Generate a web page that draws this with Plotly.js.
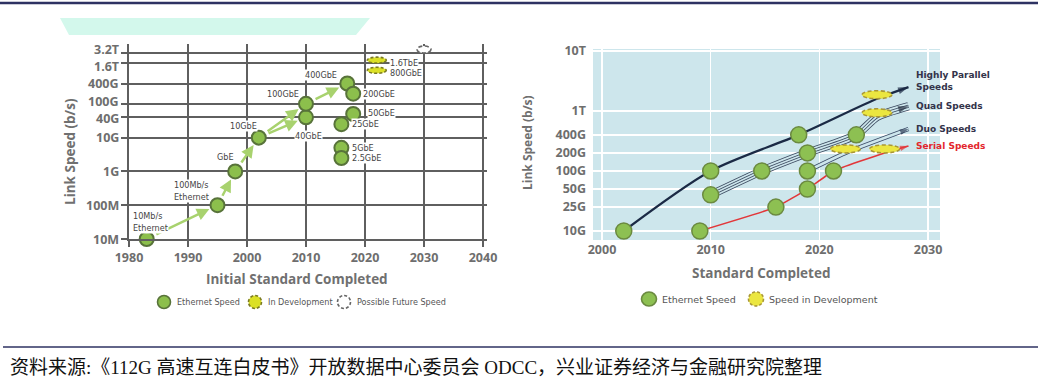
<!DOCTYPE html>
<html><head><meta charset="utf-8">
<script src="https://cdn.plot.ly/plotly-3.0.1.min.js"></script>
<style>html,body{margin:0;padding:0;background:#fff;overflow:hidden}</style>
</head><body><div id="chart" style="width:1038px;height:378px"></div>
<script>
// ---------------- Left chart data ----------------
const leftSpeedTicks = [1e7, 1e8, 1e9, 1e10, 4e10, 1e11, 4e11, 1.6e12, 3.2e12];
const leftSpeedLabels = ['10M', '100M', '1G', '10G', '40G', '100G', '400G', '1.6T', '3.2T'];
const leftYearTicks = [1980, 1990, 2000, 2010, 2020, 2030, 2040];
const ethNames = ['10Mb/s<br>Ethernet', '100Mb/s<br>Ethernet', 'GbE', '10GbE', '40GbE', '100GbE', '400GbE', '200GbE', '50GbE', '25GbE', '5GbE', '2.5GbE'];
const ethYears = [1983, 1995, 1998, 2002, 2010, 2010, 2017, 2018, 2018, 2016, 2016, 2016];
const ethSpeeds = [1e7, 1e8, 1e9, 1e10, 4e10, 1e11, 4e11, 2e11, 5e10, 2.5e10, 5e9, 2.5e9];
const devNames = ['1.6TbE', '800GbE'];
const devYears = [2022, 2022];
const devSpeeds = [1.6e12, 8e11];
const futureYears = [2030];
const futureSpeeds = [3.2e12];
const evolutionFrom = [0, 1, 2, 3, 3, 5];
const evolutionTo = [1, 2, 3, 5, 4, 6];
const leftLegend = ['Ethernet Speed', 'In Development', 'Possible Future Speed'];

// ---------------- Right chart data ----------------
const rightSpeedTicks = [1e10, 2.5e10, 5e10, 1e11, 2e11, 4e11, 1e12, 1e13];
const rightSpeedLabels = ['10G', '25G', '50G', '100G', '200G', '400G', '1T', '10T'];
const rightYearTicks = [2000, 2010, 2020, 2030];
const parallelYears = [2002, 2010, 2018.1, 2025.3, 2028.2];
const parallelSpeeds = [1e10, 1e11, 4e11, 1.6e12, 2.5e12];
const parallelStatus = ['eth', 'eth', 'eth', 'dev', 'next'];
const quadYears = [2010, 2014.7, 2018.9, 2023.4, 2025.3, 2028.2];
const quadSpeeds = [4e10, 1e11, 2e11, 4e11, 8e11, 1.2e12];
const quadStatus = ['eth', 'eth', 'eth', 'eth', 'dev', 'next'];
const duoYears = [2018.9, 2022.4, 2028.2];
const duoSpeeds = [1e11, 2e11, 5e11];
const duoStatus = ['eth', 'dev', 'next'];
const serialYears = [2009, 2016, 2018.9, 2021.3, 2026, 2028.2];
const serialSpeeds = [1e10, 2.5e10, 5e10, 1e11, 2e11, 2.6e11];
const serialStatus = ['eth', 'eth', 'eth', 'eth', 'dev', 'next'];
const seriesLabels = ['Highly Parallel<br>Speeds', 'Quad Speeds', 'Duo Speeds', 'Serial Speeds'];
const rightLegend = ['Ethernet Speed', 'Speed in Development'];

const captionText = '资料来源:《112G 高速互连白皮书》开放数据中心委员会 ODCC，兴业证券经济与金融研究院整理';

// ---------------- helpers / styles ----------------
const W = 1038, H = 378;
const px = v => v / W;
const py = v => 1 - v / H;
const L10 = v => Math.log10(v);
const AX_FONT = {family: '"Open Sans", "DejaVu Sans", sans-serif', size: 12.5, color: '#6e6e6e', weight: 700};
const TITLE_FONT = {family: '"Open Sans", "DejaVu Sans", sans-serif', size: 13.5, color: '#707070', weight: 700};
const SMALL_FONT = {family: '"Liberation Sans Narrow", "DejaVu Sans Condensed", "Liberation Sans", sans-serif', size: 9, color: '#444'};
const GREEN = '#8cbf4c', GREEN_LINE = '#58733a';
const YELLOW = '#dbe026', YELLOW_LINE = '#7a7a22';
const RBG = '#cde6ec';
const SMALL_DASH = '3px,2px';

// label placement (style only): [xanchor, xshift, yshift]
const ethLabelPos = [
  ['left', -15, 17], ['center', -26, 14], ['center', -10, 14], ['center', -15, 12],
  ['center', 3, -19], ['center', -23, 10], ['center', -26, 9], ['left', 9, 0],
  ['left', 14, 1], ['left', 10, 0], ['left', 10, 0], ['left', 10, 0]
];
// tick label nudges for the crowded parts of the left axis (style only)
const leftTickNudge = [0, 0, 0, 0, -1, 2, 0, -3, 3];

const traces = [];
const shapes = [];
const annotations = [];

// ---------- left chart ----------
traces.push({
  type: 'scatter', mode: 'markers', xaxis: 'x', yaxis: 'y', cliponaxis: false,
  x: ethYears, y: ethSpeeds, hoverinfo: 'skip',
  marker: {size: 14, color: GREEN, line: {color: GREEN_LINE, width: 2}}
});
for (let k = 0; k < evolutionFrom.length; k++) {
  const i = evolutionFrom[k], j = evolutionTo[k];
  annotations.push({
    xref: 'x', yref: 'y', axref: 'x', ayref: 'y',
    x: ethYears[j], y: L10(ethSpeeds[j]), ax: ethYears[i], ay: L10(ethSpeeds[i]),
    text: '', showarrow: true, arrowhead: 2, arrowsize: 1, arrowwidth: 2.5,
    arrowcolor: '#a8d26e', standoff: 9, startstandoff: 9
  });
}
ethNames.forEach((n, i) => {
  const p = ethLabelPos[i];
  annotations.push({
    xref: 'x', yref: 'y', x: ethYears[i], y: L10(ethSpeeds[i]), text: n, showarrow: false,
    xanchor: p[0], yanchor: 'middle', xshift: p[1], yshift: p[2], align: 'left',
    font: SMALL_FONT, bgcolor: '#ffffff', borderpad: 0
  });
});
devNames.forEach((n, i) => {
  shapes.push({type: 'circle', xref: 'x', yref: 'y', xsizemode: 'pixel', ysizemode: 'pixel',
    xanchor: devYears[i], yanchor: devSpeeds[i], x0: -9.5, x1: 9.5, y0: -6, y1: 6,
    fillcolor: YELLOW, line: {color: YELLOW_LINE, width: 1.6, dash: SMALL_DASH}});
  annotations.push({xref: 'x', yref: 'y', x: devYears[i], y: L10(devSpeeds[i]), text: n, showarrow: false,
    xanchor: 'left', yanchor: 'middle', xshift: 12, font: SMALL_FONT, bgcolor: '#ffffff', borderpad: 0});
});
futureYears.forEach((yr, i) => {
  shapes.push({type: 'circle', xref: 'x', yref: 'y', xsizemode: 'pixel', ysizemode: 'pixel',
    xanchor: yr, yanchor: futureSpeeds[i], x0: -7, x1: 7, y0: -7, y1: 7,
    fillcolor: '#ffffff', line: {color: '#666', width: 1.6, dash: '4px,2.5px'}});
});
leftSpeedTicks.forEach((v, i) => {
  annotations.push({xref: 'paper', yref: 'y', x: px(121), y: L10(v), text: leftSpeedLabels[i], showarrow: false,
    xanchor: 'right', yanchor: 'middle', yshift: leftTickNudge[i], font: AX_FONT});
});

// ---------- right chart ----------
shapes.push({type: 'rect', xref: 'x2 domain', yref: 'y2 domain', x0: 0, x1: 1, y0: 0, y1: 1,
  fillcolor: RBG, line: {width: 0}, layer: 'below'});

function stripes(xs, ys, widths, dark) {
  widths.forEach((w, k) => {
    traces.push({type: 'scatter', mode: 'lines', xaxis: 'x2', yaxis: 'y2', x: xs, y: ys, hoverinfo: 'skip',
      line: {color: k % 2 === 0 ? dark : RBG, width: w, shape: 'spline', smoothing: 0.6}});
  });
}
traces.push({type: 'scatter', mode: 'lines', xaxis: 'x2', yaxis: 'y2', x: parallelYears, y: parallelSpeeds,
  hoverinfo: 'skip', line: {color: '#1b2a45', width: 2.2, shape: 'spline', smoothing: 0.8}});
stripes(quadYears, quadSpeeds, [8.3, 6.7, 3.3, 1.7], '#3c4a60');
stripes(duoYears, duoSpeeds, [4.4, 2.6], '#3c4d68');
traces.push({type: 'scatter', mode: 'lines', xaxis: 'x2', yaxis: 'y2', x: serialYears, y: serialSpeeds,
  hoverinfo: 'skip', line: {color: '#e2373a', width: 1.6, shape: 'spline', smoothing: 0.4}});

const allSeries = [
  [parallelYears, parallelSpeeds, parallelStatus, '#1b2a45', 11, '#33334a'],
  [quadYears, quadSpeeds, quadStatus, '#2a3345', 11, '#33334a'],
  [duoYears, duoSpeeds, duoStatus, '#2f3d58', 9, '#33334a'],
  [serialYears, serialSpeeds, serialStatus, '#e2373a', 9, '#e3262c']
];
const gx = [], gy = [];
allSeries.forEach((s, si) => {
  const [xs, ys, st, col, asz, labCol] = s;
  traces.push({type: 'scatter', mode: 'markers', xaxis: 'x2', yaxis: 'y2', x: xs, y: ys, hoverinfo: 'skip',
    marker: {symbol: 'arrow', angleref: 'previous', color: col, size: st.map(v => v === 'next' ? asz : 0), line: {width: 0}}});
  st.forEach((v, i) => {
    if (v === 'eth') { gx.push(xs[i]); gy.push(ys[i]); }
    if (v === 'dev') shapes.push({type: 'circle', xref: 'x2', yref: 'y2', xsizemode: 'pixel', ysizemode: 'pixel',
      xanchor: xs[i], yanchor: ys[i], x0: -15, x1: 15, y0: -8, y1: 8,
      fillcolor: '#ebe640', line: {color: '#a89636', width: 1.6, dash: '4px,2.5px'}});
    if (v === 'next') annotations.push({xref: 'x2', yref: 'y2', x: xs[i], y: L10(ys[i]), text: seriesLabels[si],
      showarrow: false, xanchor: 'left', yanchor: 'middle', xshift: 6, yshift: si === 0 ? 6 : 0, align: 'left',
      font: {family: '"DejaVu Sans", sans-serif', size: 9, color: labCol, weight: 700}});
  });
});
traces.push({type: 'scatter', mode: 'markers', xaxis: 'x2', yaxis: 'y2', x: gx, y: gy, hoverinfo: 'skip',
  marker: {size: 16, color: '#8dc052', line: {color: '#6b8a40', width: 1.5}}});

// ---------- titles ----------
const T = (x, y, text, extra) => Object.assign({xref: 'paper', yref: 'paper', x: px(x), y: py(y), text: text,
  showarrow: false, xanchor: 'center', yanchor: 'middle', font: TITLE_FONT}, extra || {});
annotations.push(
  T(70, 152, 'Link Speed (b/s)', {textangle: -90}),
  T(297, 279, 'Initial Standard Completed'),
  T(527, 143, 'Link Speed (b/s)', {textangle: -90, font: Object.assign({}, TITLE_FONT, {size: 12})}),
  T(761, 273, 'Standard Completed')
);

// ---------- legends ----------
const legL = [[164, GREEN, GREEN_LINE, 'solid'], [255, YELLOW, YELLOW_LINE, SMALL_DASH], [344, '#ffffff', '#666', SMALL_DASH]];
legL.forEach((l, i) => {
  shapes.push({type: 'circle', xref: 'paper', yref: 'paper', xsizemode: 'pixel', ysizemode: 'pixel',
    xanchor: px(l[0]), yanchor: py(302), x0: -6.5, x1: 6.5, y0: -6.5, y1: 6.5, fillcolor: l[1], line: {color: l[2], width: 1.6, dash: l[3]}});
  annotations.push({xref: 'paper', yref: 'paper', x: px(l[0] + 11), y: py(302), xanchor: 'left', yanchor: 'middle', text: leftLegend[i],
    showarrow: false, font: Object.assign({}, SMALL_FONT, {size: 9, color: '#555'})});
});
const legR = [[649, '#8dc052', '#6b8a40', 'solid', 7.5], [756, '#ebe640', '#a89636', SMALL_DASH, 7.5]];
legR.forEach((l, i) => {
  shapes.push({type: 'circle', xref: 'paper', yref: 'paper', xsizemode: 'pixel', ysizemode: 'pixel',
    xanchor: px(l[0]), yanchor: py(299), x0: -l[4], x1: l[4], y0: -7, y1: 7, fillcolor: l[1], line: {color: l[2], width: 1.6, dash: l[3]}});
  annotations.push({xref: 'paper', yref: 'paper', x: px(l[0] + 11), y: py(299), xanchor: 'left', yanchor: 'middle', text: rightLegend[i],
    showarrow: false, font: {family: '"DejaVu Sans", sans-serif', size: 9.5, color: '#555'}});
});

// ---------- page decorations ----------
shapes.push(
  {type: 'line', xref: 'paper', yref: 'paper', x0: 0, x1: 1, y0: py(3), y1: py(3), line: {color: '#2e3262', width: 2.5}},
  {type: 'line', xref: 'paper', yref: 'paper', x0: px(3), x1: 1, y0: py(347), y1: py(347), line: {color: '#2e3262', width: 1.5}},
  {type: 'path', xref: 'paper', yref: 'paper', layer: 'below', fillcolor: '#d3f8ec', line: {width: 0},
    path: `M ${px(60)} ${py(18)} L ${px(370)} ${py(18)} L ${px(356)} ${py(35)} L ${px(69)} ${py(35)} Z`}
);
annotations.push({xref: 'paper', yref: 'paper', x: px(8), y: py(367), xanchor: 'left', yanchor: 'middle',
  text: captionText, showarrow: false,
  font: {family: '"Liberation Serif", "Noto Sans CJK SC", serif', size: 19, color: '#111'}});

const layout = {
  width: W, height: H, margin: {l: 0, r: 0, t: 0, b: 0},
  paper_bgcolor: '#ffffff', plot_bgcolor: 'rgba(0,0,0,0)', showlegend: false,
  xaxis: {domain: [px(129), px(487)], range: [1980, 2040.68], anchor: 'y', tickmode: 'array',
    tickvals: leftYearTicks, ticktext: leftYearTicks.map(String), showgrid: true, gridcolor: '#5f5f5f', gridwidth: 2,
    showline: true, linecolor: '#5f5f5f', linewidth: 2, ticks: 'outside', ticklen: 6, tickwidth: 2, tickcolor: '#5f5f5f',
    tickfont: AX_FONT, zeroline: false, fixedrange: true},
  yaxis: {domain: [py(239), py(44)], type: 'log', range: [7, 7 + 195 / 33.79], anchor: 'x', tickmode: 'array',
    tickvals: leftSpeedTicks, showticklabels: false, showgrid: true, gridcolor: '#5f5f5f', gridwidth: 2,
    showline: true, linecolor: '#5f5f5f', linewidth: 2, ticks: 'outside', ticklen: 6, tickwidth: 2, tickcolor: '#5f5f5f',
    zeroline: false, fixedrange: true},
  xaxis2: {domain: [px(593), px(940)], range: [1999.17, 2031.1], anchor: 'y2', tickmode: 'array',
    tickvals: rightYearTicks, ticktext: rightYearTicks.map(String), showgrid: true, gridcolor: '#ffffff', gridwidth: 1.5,
    showline: false, ticks: '', tickfont: AX_FONT, zeroline: false, fixedrange: true},
  yaxis2: {domain: [py(240), py(49)], type: 'log', range: [9.85, 13.033], anchor: 'x2', tickmode: 'array',
    tickvals: rightSpeedTicks, ticktext: rightSpeedLabels, showgrid: true, gridcolor: '#ffffff', gridwidth: 1.5,
    showline: false, ticks: '', ticklabelstandoff: 6, tickfont: AX_FONT, zeroline: false, fixedrange: true},
  shapes: shapes, annotations: annotations
};
Plotly.newPlot('chart', traces, layout, {displayModeBar: false, staticPlot: true});
</script></body></html>
